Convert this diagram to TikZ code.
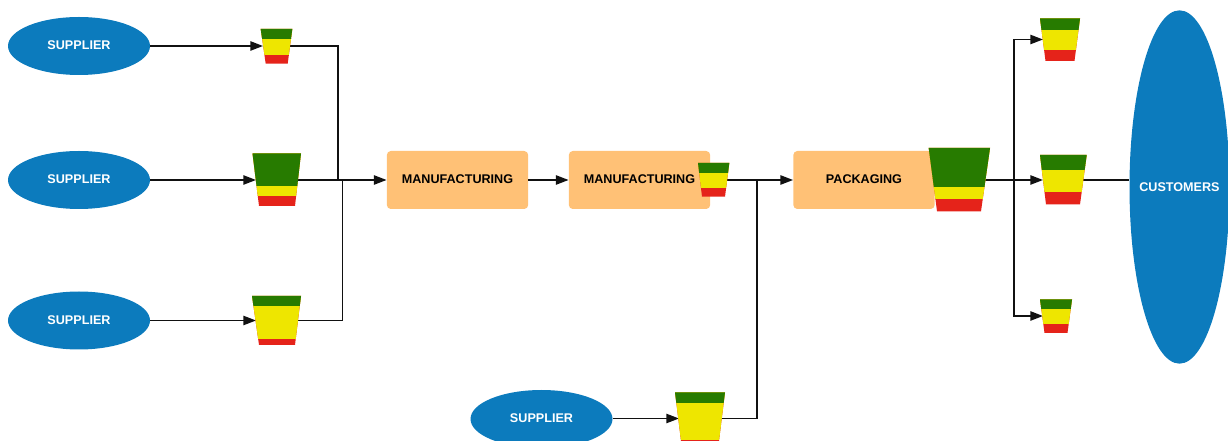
\documentclass[tikz,border=0pt]{standalone}
\usepackage{fontspec}
\setmainfont{Liberation Sans}
\usetikzlibrary{shapes.geometric,arrows.meta}
\definecolor{flowblue}{HTML}{0C7BBD}
\definecolor{boxorange}{HTML}{FFC176}
\definecolor{bingreen}{HTML}{277B00}
\definecolor{binyellow}{HTML}{EEE600}
\definecolor{binred}{HTML}{E5231A}
\definecolor{linegrey}{HTML}{111111}
\newcommand{\uptext}[1]{\raisebox{1.2pt}{#1}}
\tikzset{
  labelfont/.style={font=\bfseries\fontsize{9.45pt}{11pt}\selectfont},
  party/.style={ellipse,fill=flowblue,text=white,labelfont,inner sep=0pt,minimum width=106.5pt,minimum height=43.5pt},
  stagebox/.style={rectangle,rounded corners=3pt,fill=boxorange,text=black,labelfont,inner sep=0pt,minimum width=106pt,minimum height=43.5pt},
  link/.style={draw=linegrey,line width=1.1pt},
  flow/.style={link,-{Triangle[length=9.5pt,width=7pt]}},
}
% #1 name, #2 top-left x, #3 top-right x, #4 top y, #5 bottom-left x, #6 bottom-right x, #7 bottom y, #8 green/yellow y, #9 yellow/red y
\newcommand{\stockbin}[9]{%
  \fill[binred] (#2,#4) -- (#3,#4) -- (#6,#7) -- (#5,#7) -- cycle;
  \begin{scope}
    \clip (0,#4) rectangle (1228,#9);
    \fill[binyellow] (#2,#4) -- (#3,#4) -- (#6,#7) -- (#5,#7) -- cycle;
  \end{scope}
  \begin{scope}
    \clip (0,#4) rectangle (1228,#8);
    \fill[bingreen] (#2,#4) -- (#3,#4) -- (#6,#7) -- (#5,#7) -- cycle;
  \end{scope}
}
\begin{document}
\begin{tikzpicture}[x=0.75pt,y=-0.75pt]
\useasboundingbox (0,0) rectangle (1228,441);
\clip (0,0) rectangle (1228,441);
% nodes
\node[party] (s1) at (79,46) {\uptext{SUPPLIER}};
\node[party] (s2) at (79,180) {\uptext{SUPPLIER}};
\node[party] (s3) at (79,320.5) {\uptext{SUPPLIER}};
\node[party] (s4) at (541.5,419) {\uptext{SUPPLIER}};
\node[party,minimum width=75pt,minimum height=265pt,label={[text=white,labelfont]center:CUSTOMERS}] (cust) at (1179.5,187) {};
\node[stagebox] (m1) at (457.5,180) {\uptext{MANUFACTURING}};
\node[stagebox] (m2) at (639.5,180) {\uptext{MANUFACTURING}};
\node[stagebox] (pk) at (864,180) {\uptext{PACKAGING}};
% connector anchors on the bins
\coordinate (b1i) at (263,46); \coordinate (b1o) at (288,46);
\coordinate (b2i) at (256,180); \coordinate (b2o) at (297,180);
\coordinate (b3i) at (256,320.5); \coordinate (b3o) at (297,320.5);
\coordinate (b4o) at (727,180);
\coordinate (b5o) at (984,180);
\coordinate (b6i) at (1043,180); \coordinate (b6o) at (1083,180);
\coordinate (b7i) at (1043,39.5);
\coordinate (b8i) at (1043,316);
\coordinate (b9i) at (679,418.5); \coordinate (b9o) at (721,418.5);
\coordinate (j1) at (338,180);
\coordinate (j2) at (342.5,180);
\coordinate (j3) at (757,180);
\coordinate (j4) at (1014,180);
% connectors
\draw[flow] (s1.east |- b1i) -- (b1i);
\draw[flow] (s2.east) -- (b2i);
\draw[flow] (s3.east) -- (b3i);
\draw[flow] (s4.east |- b9i) -- (b9i);
\draw[link] (b1o) -| (j1);
\draw[flow] (b2o) -- (m1.west);
\draw[link] (b3o) -| (j2);
\draw[flow] (m1.east) -- (m2.west);
\draw[flow] (b4o) -- (pk.west);
\draw[link] (b9o) -| (j3);
\draw[flow] (b5o) -- (b6i);
\draw[flow] (j4) |- (b7i);
\draw[flow] (j4) |- (b8i);
\draw[link] (b6o) -- (cust.west |- b6o);
% stock bins
\stockbin{b1}{260.7}{292.3}{29}{265.7}{287.7}{63.7}{38.3}{54.7}
\stockbin{b2}{252.5}{301}{153.3}{259}{295}{206}{185.3}{195.7}
\stockbin{b3}{252}{301}{296}{259}{295}{345}{305.5}{339}
\stockbin{b4}{698}{729.3}{163}{702}{725}{196.7}{172.5}{187.5}
\stockbin{b5}{928.7}{990}{148}{937}{981}{211.3}{186.5}{199}
\stockbin{b6}{1040}{1086.7}{155}{1046}{1080}{204.5}{169.5}{191.5}
\stockbin{b7}{1040}{1080}{18.5}{1045.5}{1074.5}{61}{30}{50}
\stockbin{b8}{1040}{1072}{299.5}{1044.5}{1067.5}{333}{309}{324}
\stockbin{b9}{675}{725}{392.3}{682}{718}{449}{403}{439.3}
\end{tikzpicture}
\end{document}
